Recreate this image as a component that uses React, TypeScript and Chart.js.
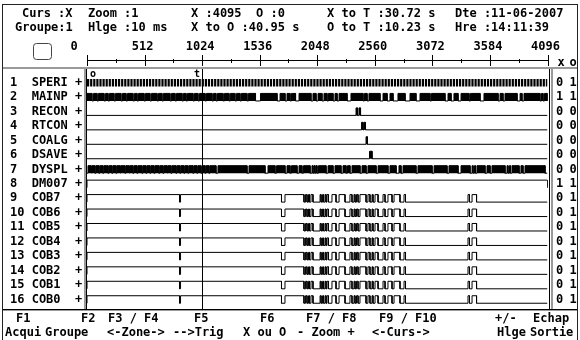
import React, { useEffect, useRef } from "react";
import { Chart, registerables } from "chart.js";

Chart.register(...registerables);

// ---------------- data ----------------
const rowNames = ["SPERI", "MAINP", "RECON", "RTCON", "COALG", "DSAVE", "DYSPL", "DM007", "COB7", "COB6", "COB5", "COB4", "COB3", "COB2", "COB1", "COB0"];
const valuesAtX = ["0", "1", "0", "0", "0", "0", "0", "1", "0", "0", "0", "0", "0", "0", "0", "0"];
const valuesAtO = ["1", "1", "0", "0", "0", "0", "0", "1", "1", "1", "1", "1", "1", "1", "1", "1"];

const rulerTicks = [0, 512, 1024, 1536, 2048, 2560, 3072, 3584, 4096];
const rulerMinorTicks = [256, 768, 1280, 1792, 2304, 2816, 3328, 3840];

const cursorX = 4095;
const cursorO = 0;
const cursorT = 1023;

// high intervals [start, end] in sample units
const speriClock = [[0, 4096]];
const mainpHigh = [[0, 44], [58, 89], [102, 151], [165, 187], [200, 240], [254, 302], [316, 347], [360, 409], [423, 445], [458, 507], [520, 560], [574, 623], [636, 667], [680, 738], [752, 783], [796, 845], [858, 881], [894, 943], [956, 987], [1001, 1050], [1063, 1112], [1125, 1147], [1161, 1210], [1223, 1263], [1276, 1316], [1330, 1361], [1374, 1423], [1437, 1499], [1543, 1690], [1717, 1761], [1779, 1806], [1819, 1855], [1886, 1992], [2010, 2037], [2055, 2090], [2108, 2135], [2148, 2188], [2206, 2224], [2242, 2313], [2348, 2455], [2468, 2491], [2508, 2606], [2633, 2669], [2695, 2722], [2766, 2829], [2873, 2926], [2962, 3051], [3064, 3184], [3211, 3238], [3264, 3300], [3327, 3398], [3411, 3496], [3531, 3656], [3674, 3700], [3718, 3825], [3852, 3869], [3887, 4029], [4043, 4056], [4069, 4096]];
const reconHigh = [[2393, 2406], [2419, 2433]];
const rtconHigh = [[2442, 2455], [2464, 2477]];
const coalgHigh = [[2482, 2495]];
const dsaveHigh = [[2513, 2535]];
const dysplHigh = [[9, 36], [44, 71], [80, 107], [116, 142], [151, 187], [196, 222], [231, 258], [267, 294], [302, 338], [347, 374], [382, 409], [418, 445], [454, 489], [498, 525], [534, 560], [569, 596], [605, 640], [649, 676], [685, 712], [720, 747], [756, 792], [801, 827], [836, 863], [872, 898], [907, 943], [952, 978], [987, 1014], [1023, 1050], [1059, 1085], [1094, 1147], [1165, 1423], [1441, 1583], [1610, 1672], [1686, 1761], [1779, 1806], [1819, 1868], [1886, 1912], [1926, 1984], [2001, 2010], [2019, 2028], [2037, 2046], [2059, 2126], [2144, 2188], [2206, 2259], [2277, 2304], [2317, 2339], [2357, 2428], [2446, 2482], [2499, 2571], [2589, 2677], [2695, 2749], [2775, 2793], [2811, 2926], [2944, 3069], [3087, 3202], [3220, 3300], [3327, 3407], [3425, 3434], [3447, 3456], [3469, 3540], [3558, 3585], [3602, 3718], [3736, 3745], [3758, 3767], [3780, 3843], [3860, 3878], [3896, 4074]];
const dm007High = [[0, 4096]];
const cobHigh = [[0, 823], [832, 1730], [1761, 1930], [1944, 1957], [1970, 1979], [1992, 2010], [2073, 2082], [2095, 2104], [2117, 2126], [2135, 2148], [2179, 2215], [2242, 2295], [2339, 2357], [2375, 2384], [2397, 2411], [2428, 2482], [2499, 2517], [2535, 2544], [2562, 2589], [2633, 2651], [2677, 2713], [2731, 2784], [2820, 2833], [3389, 3402], [3425, 3465]];

const headerRow1 = ["Curs :X", "Zoom :1", "X :4095", "O :0", "X to T :30.72 s", "Dte :11-06-2007"];
const headerRow2 = ["Groupe:1", "Hlge :10 ms", "X to O :40.95 s", "O to T :10.23 s", "Hre :14:11:39"];
const footerKeys = ["F1", "F2", "F3 / F4", "F5", "F6", "F7 / F8", "F9 / F10", "+/-", "Echap"];
const footerActions = ["Acqui", "Groupe", "<-Zone->", "-->Trig", "X ou O", "- Zoom +", "<-Curs->", "Hlge", "Sortie"];
const columnHeads = ["x", "o"];

// ---------------- layout / style ----------------
const W = 580;
const H = 340;
const MONO = '"DejaVu Sans Mono", "Liberation Mono", monospace';
const FONT = { family: MONO, size: 12, weight: "bold" as const };
const PAD_LEFT = 10;
const PAD_TOP = 30;
const PLOT_TOP = 69;
const PLOT_BOTTOM = 309;
const Y_MIN = -0.211;
const Y_MAX = 16.398;
const AMP = 0.52;
const LABEL_OFF = 0.26;

const header1X = [22, 88, 191, 256, 327, 455];
const header2X = [15, 88, 191, 327, 455];
const HEADER_Y = [14, 28];
const footerKeyX = [16, 81, 108, 194, 260, 306, 379, 495, 533];
const footerActX = [5, 45, 107, 173, 243, 297, 372, 497, 530];
const FOOTER_Y = [319, 333];

const signals = [
  { highs: speriClock, kind: "clock" },
  { highs: mainpHigh, kind: "fill" },
  { highs: reconHigh, kind: "fill" },
  { highs: rtconHigh, kind: "fill" },
  { highs: coalgHigh, kind: "fill" },
  { highs: dsaveHigh, kind: "fill" },
  { highs: dysplHigh, kind: "fill" },
  { highs: dm007High, kind: "line" },
  { highs: cobHigh, kind: "line" },
  { highs: cobHigh, kind: "line" },
  { highs: cobHigh, kind: "line" },
  { highs: cobHigh, kind: "line" },
  { highs: cobHigh, kind: "line" },
  { highs: cobHigh, kind: "line" },
  { highs: cobHigh, kind: "line" },
  { highs: cobHigh, kind: "line" },
];

function rowLabel(i: number) {
  return `${String(i + 1).padEnd(2, " ")} ${rowNames[i].padEnd(5, " ")} +`;
}

function signalPoints(highs: number[][], row: number) {
  const lo = row;
  const hi = row - AMP;
  const pts: { x: number; y: number }[] = [{ x: 0, y: lo }];
  for (const [a, b] of highs) {
    pts.push({ x: a, y: lo }, { x: a, y: hi }, { x: b, y: hi }, { x: b, y: lo });
  }
  pts.push({ x: 4096, y: lo });
  return pts;
}

function buildDatasets() {
  return signals.map((s, i) => {
    const row = i + 1;
    if (s.kind === "clock") {
      const c = row - AMP / 2;
      return {
        data: s.highs.flatMap(([a, b]) => [{ x: a, y: c }, { x: b, y: c }]),
        borderColor: "#000",
        borderWidth: AMP * 14.45,
        borderDash: [2.2, 0.9],
        borderCapStyle: "butt",
        fill: false,
        pointRadius: 0,
      };
    }
    const filled = s.kind === "fill";
    return {
      data: signalPoints(s.highs, row),
      borderColor: "#000",
      backgroundColor: "#000",
      borderWidth: 1,
      fill: filled ? { value: row } : false,
      pointRadius: 0,
    };
  });
}

const rowTicks = (s: any) => {
  s.ticks = rowNames.map((_, i) => ({ value: i + 1 - LABEL_OFF }));
};

const decorPlugin = {
  id: "decor",
  beforeDraw(chart: any) {
    const ctx = chart.ctx;
    ctx.save();
    ctx.fillStyle = "#fff";
    ctx.fillRect(0, 0, W, H);
    ctx.restore();
  },
  afterDatasetsDraw(chart: any) {
    const ctx = chart.ctx;
    const xs = chart.scales.x;
    const area = chart.chartArea;
    ctx.save();
    // T cursor line
    const tx = Math.round(xs.getPixelForValue(cursorT)) + 0.5;
    ctx.strokeStyle = "#000";
    ctx.lineWidth = 1;
    ctx.beginPath();
    ctx.moveTo(tx, area.top);
    ctx.lineTo(tx, area.bottom);
    ctx.stroke();
    // markers
    ctx.font = `bold 10px ${MONO}`;
    ctx.textAlign = "center";
    ctx.textBaseline = "middle";
    const ox = xs.getPixelForValue(cursorO);
    ctx.fillStyle = "#fff";
    ctx.fillRect(ox + 2, area.top + 1, 8, 8);
    ctx.fillRect(tx - 10, area.top + 1, 9, 8);
    ctx.fillStyle = "#000";
    ctx.fillText("o", ox + 6, area.top + 5);
    ctx.fillText("t", tx - 5.5, area.top + 5);
    ctx.restore();
  },
  afterDraw(chart: any) {
    const ctx = chart.ctx;
    const xs = chart.scales.x;
    const area = chart.chartArea;
    ctx.save();
    // outer frame
    ctx.strokeStyle = "#222";
    ctx.lineWidth = 1;
    ctx.strokeRect(2.5, 4.5, 575, 340);
    // separators
    ctx.fillStyle = "#9a9a9a";
    ctx.fillRect(3, PLOT_TOP - 2, 574, 2);
    ctx.fillStyle = "#000";
    ctx.fillRect(3, PLOT_BOTTOM, 574, 1);
    ctx.fillStyle = "#9a9a9a";
    ctx.fillRect(3, PLOT_BOTTOM + 1, 574, 1);
    // plot side borders
    const lx = Math.round(area.left);
    const rx = Math.round(area.right);
    ctx.fillStyle = "#9a9a9a";
    ctx.fillRect(lx - 3, PLOT_TOP, 2, PLOT_BOTTOM - PLOT_TOP);
    ctx.fillRect(rx + 3, PLOT_TOP, 2, PLOT_BOTTOM - PLOT_TOP);
    ctx.fillStyle = "#000";
    ctx.fillRect(lx - 1, PLOT_TOP, 1, PLOT_BOTTOM - PLOT_TOP);
    ctx.fillRect(rx + 1, PLOT_TOP, 1, PLOT_BOTTOM - PLOT_TOP);
    // ruler
    const ry = 60.5;
    ctx.strokeStyle = "#000";
    ctx.beginPath();
    ctx.moveTo(Math.round(xs.getPixelForValue(rulerTicks[0])), ry);
    ctx.lineTo(Math.round(xs.getPixelForValue(rulerTicks[rulerTicks.length - 1])) + 1, ry);
    for (const v of rulerTicks) {
      const px = Math.round(xs.getPixelForValue(v)) + 0.5;
      ctx.moveTo(px, 55);
      ctx.lineTo(px, 66);
    }
    for (const v of rulerMinorTicks) {
      const px = Math.round(xs.getPixelForValue(v)) + 0.5;
      ctx.moveTo(px, 59);
      ctx.lineTo(px, 63);
    }
    ctx.stroke();
    // button
    ctx.strokeStyle = "#444";
    ctx.beginPath();
    ctx.roundRect(33.5, 43.5, 18, 16, 3);
    ctx.stroke();
    // texts
    ctx.fillStyle = "#000";
    ctx.font = `bold 12px ${MONO}`;
    ctx.textAlign = "left";
    ctx.textBaseline = "middle";
    headerRow1.forEach((t, i) => ctx.fillText(t, header1X[i], HEADER_Y[0]));
    headerRow2.forEach((t, i) => ctx.fillText(t, header2X[i], HEADER_Y[1]));
    footerKeys.forEach((t, i) => ctx.fillText(t, footerKeyX[i], FOOTER_Y[0]));
    footerActions.forEach((t, i) => ctx.fillText(t, footerActX[i], FOOTER_Y[1]));
    const sx = chart.scales.yX;
    const so = chart.scales.yO;
    ctx.fillText(columnHeads[0], sx.left + 10, 63);
    ctx.fillText(columnHeads[1], so.left + 4, 63);
    ctx.restore();
  },
};

export default function App() {
  const ref = useRef<HTMLCanvasElement | null>(null);
  useEffect(() => {
    if (!ref.current) return;
    const yBase = {
      type: "linear",
      reverse: true,
      min: Y_MIN,
      max: Y_MAX,
      grid: { display: false, drawTicks: false },
      border: { display: false },
      afterBuildTicks: rowTicks,
    };
    const chart = new Chart(ref.current, {
      type: "line",
      data: { datasets: buildDatasets() as any },
      options: {
        responsive: false,
        animation: false,
        devicePixelRatio: 1,
        events: [],
        layout: { padding: { left: PAD_LEFT, top: PAD_TOP, right: 0, bottom: H - PLOT_BOTTOM } },
        elements: { point: { radius: 0 }, line: { tension: 0 } },
        plugins: { legend: { display: false }, tooltip: { enabled: false }, title: { display: false } },
        scales: {
          x: {
            type: "linear",
            position: "top",
            min: 0,
            max: 4096,
            grid: { display: false, drawTicks: false },
            border: { display: false },
            afterBuildTicks: (s: any) => {
              s.ticks = rulerTicks.map((v) => ({ value: v }));
            },
            afterFit: (s: any) => {
              s.height = PLOT_TOP - PAD_TOP;
            },
            ticks: {
              autoSkip: false,
              maxRotation: 0,
              minRotation: 0,
              padding: 15,
              labelOffset: -2,
              color: "#000",
              font: FONT,
              callback: (v: any) => (v === 0 ? "0   " : String(v)),
            },
          },
          y: {
            ...yBase,
            position: "left",
            afterFit: (s: any) => {
              s.width = 77;
            },
            ticks: { autoSkip: false, crossAlign: "far", padding: 0, color: "#000", font: FONT, callback: (_v: any, i: number) => rowLabel(i) },
          },
          yX: {
            ...yBase,
            position: "right",
            weight: 0,
            afterFit: (s: any) => {
              s.width = 18;
            },
            ticks: { autoSkip: false, crossAlign: "near", padding: 8.5, color: "#000", font: FONT, callback: (_v: any, i: number) => valuesAtX[i] },
          },
          yO: {
            ...yBase,
            position: "right",
            weight: 1,
            afterFit: (s: any) => {
              s.width = 14.5;
            },
            ticks: { autoSkip: false, crossAlign: "near", padding: 4, color: "#000", font: FONT, callback: (_v: any, i: number) => valuesAtO[i] },
          },
        } as any,
      },
      plugins: [decorPlugin],
    });
    return () => chart.destroy();
  }, []);
  return (
    <div style={{ position: "fixed", left: 0, top: 0, width: W, height: H, background: "#fff" }}>
      <canvas ref={ref} width={W} height={H} style={{ display: "block", width: W, height: H }} />
    </div>
  );
}
